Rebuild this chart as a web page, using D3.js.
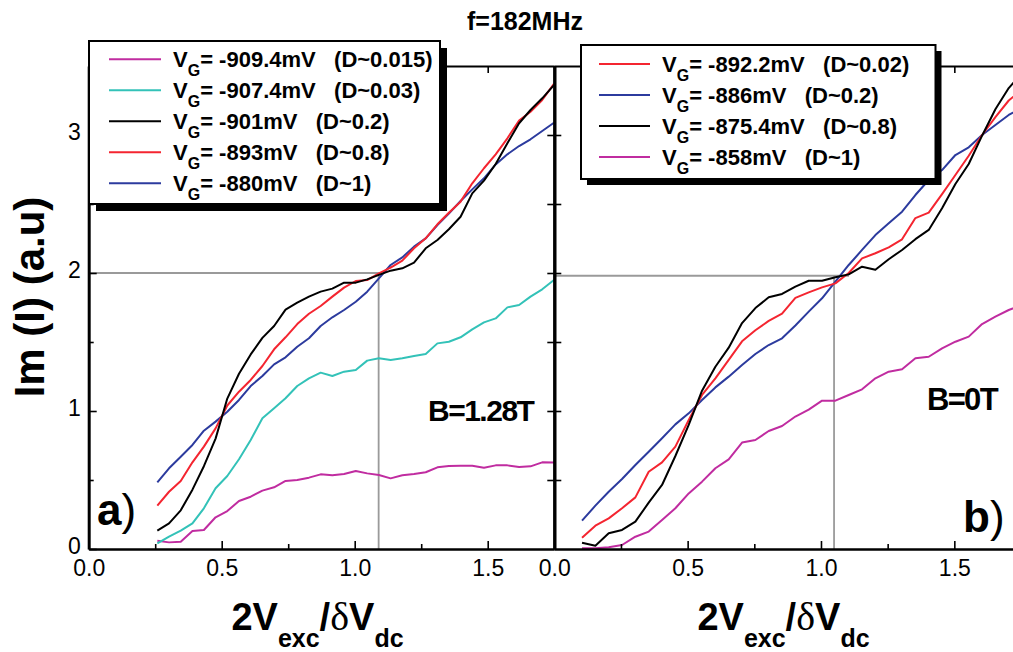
<!DOCTYPE html>
<html><head><meta charset="utf-8">
<script src="https://cdn.jsdelivr.net/npm/d3@7"></script>
<style>
body{margin:0;background:#fff}
svg{display:block;font-family:"Liberation Sans",Arial,sans-serif}
</style></head><body>
<svg id="c" width="1013" height="652"></svg>
<script>
// ---------- data ----------
const xA = [0.258,0.302,0.346,0.390,0.433,0.477,0.521,0.565,0.609,0.653,0.697,0.740,0.784,0.828,0.872,0.916,0.960,1.004,1.047,1.091,1.135,1.179,1.223,1.267,1.311,1.354,1.398,1.442,1.486,1.530,1.574,1.618,1.661,1.705,1.749];
const magentaA = [0.06,0.048,0.053,0.13,0.138,0.23,0.275,0.348,0.379,0.423,0.447,0.493,0.50,0.517,0.541,0.534,0.543,0.565,0.548,0.536,0.512,0.534,0.543,0.556,0.592,0.601,0.604,0.604,0.589,0.606,0.606,0.594,0.599,0.628,0.626];
const cyanA = [0.041,0.089,0.133,0.186,0.295,0.44,0.529,0.65,0.79,0.947,1.02,1.092,1.181,1.237,1.278,1.254,1.285,1.297,1.365,1.382,1.37,1.382,1.399,1.413,1.49,1.502,1.534,1.592,1.642,1.671,1.751,1.768,1.829,1.882,1.949];
const blackA = [0.133,0.186,0.28,0.43,0.60,0.80,1.09,1.27,1.41,1.53,1.616,1.735,1.785,1.829,1.865,1.887,1.93,1.93,1.954,1.986,2.017,2.034,2.075,2.179,2.239,2.317,2.408,2.577,2.669,2.79,2.94,3.085,3.181,3.266,3.362];
const redA = [0.315,0.415,0.493,0.628,0.742,0.874,1.04,1.14,1.225,1.326,1.447,1.534,1.63,1.705,1.761,1.829,1.894,1.942,1.949,1.998,2.039,2.09,2.179,2.251,2.353,2.437,2.517,2.65,2.759,2.86,2.976,3.104,3.169,3.254,3.37];
const blueA = [0.483,0.585,0.669,0.754,0.857,0.923,0.995,1.08,1.181,1.254,1.338,1.389,1.466,1.527,1.616,1.679,1.732,1.792,1.865,1.961,2.058,2.113,2.191,2.251,2.348,2.43,2.522,2.606,2.686,2.787,2.86,2.92,2.969,3.029,3.089];

const xB = [0.104,0.154,0.204,0.254,0.304,0.354,0.404,0.454,0.504,0.554,0.604,0.654,0.704,0.754,0.804,0.854,0.904,0.954,1.004,1.054,1.104,1.154,1.204,1.254,1.304,1.354,1.404,1.454,1.504,1.554,1.604,1.654,1.704,1.754];
const redB = [0.082,0.169,0.222,0.295,0.374,0.56,0.628,0.742,0.935,1.116,1.237,1.37,1.505,1.585,1.653,1.705,1.82,1.86,1.896,1.925,2.0,2.106,2.143,2.186,2.244,2.398,2.437,2.572,2.71,2.85,3.0,3.13,3.25,3.33];
const blueB = [0.205,0.314,0.415,0.507,0.609,0.705,0.802,0.903,0.983,1.08,1.171,1.249,1.333,1.413,1.478,1.527,1.62,1.72,1.817,1.937,2.058,2.167,2.275,2.36,2.444,2.565,2.674,2.746,2.855,2.911,3.0,3.072,3.145,3.2];
const blackB = [0.046,0.024,0.114,0.138,0.198,0.336,0.464,0.674,0.899,1.147,1.321,1.459,1.637,1.746,1.824,1.848,1.901,1.944,1.944,1.969,1.99,2.046,2.024,2.1,2.167,2.245,2.312,2.469,2.645,2.79,2.995,3.187,3.34,3.45];
const magentaB = [0.005,0.005,0.012,0.029,0.089,0.126,0.21,0.295,0.403,0.488,0.585,0.65,0.771,0.79,0.855,0.891,0.96,1.01,1.075,1.075,1.116,1.157,1.237,1.285,1.302,1.382,1.393,1.454,1.502,1.539,1.63,1.684,1.732,1.77];

const legendVgA = ["-909.4mV","-907.4mV","-901mV","-893mV","-880mV"];
const legendDA = ["(D~0.015)","(D~0.03)","(D~0.2)","(D~0.8)","(D~1)"];
const legendVgB = ["-892.2mV","-886mV","-875.4mV","-858mV"];
const legendDB = ["(D~0.02)","(D~0.2)","(D~0.8)","(D~1)"];

const xTicks = [0, 0.5, 1.0, 1.5];
const xMinor = [0.25, 0.75, 1.25];
const yTicks = [0, 1, 2, 3];
const yMinor = [0.5, 1.5, 2.5];
const refA = {x: 1.09, y: 2.0};
const refB = {x: 1.049, y: 1.98, xEnd: 1.105};

const C = {mag:"#c02ca0", cyan:"#33c2b8", red:"#f42530", blue:"#2c3b9e", black:"#000000"};

// ---------- drawing ----------
const svg = d3.select("#c");
const y = d3.scaleLinear([0, 3.5], [549, 66]);
const xL = d3.scaleLinear([0, 1.75], [88.7, 554.2]);
const xR = d3.scaleLinear([0, 1.75], [554.3, 1021]);

const defs = svg.append("defs");
defs.append("clipPath").attr("id","clipL").append("rect").attr("x",88.7).attr("y",60).attr("width",465.5).attr("height",489);
defs.append("clipPath").attr("id","clipR").append("rect").attr("x",554.3).attr("y",60).attr("width",460).attr("height",489);

// gray reference lines
svg.append("path").attr("fill","none").attr("stroke","#9a9a9a").attr("stroke-width",1.8)
  .attr("d", d3.line()([[xL(0),y(refA.y)],[xL(refA.x),y(refA.y)],[xL(refA.x),y(0)]]));
svg.append("path").attr("fill","none").attr("stroke","#9a9a9a").attr("stroke-width",1.8)
  .attr("d", d3.line()([[xR(0),y(refB.y)],[xR(refB.xEnd),y(refB.y)]]));
svg.append("path").attr("fill","none").attr("stroke","#9a9a9a").attr("stroke-width",1.8)
  .attr("d", d3.line()([[xR(refB.x),y(refB.y)],[xR(refB.x),y(0)]]));

function series(g, xs, xScale, vals, color){
  g.append("path").datum(vals).attr("fill","none").attr("stroke",color).attr("stroke-width",2)
   .attr("stroke-linejoin","round")
   .attr("d", d3.line().x((d,i)=>xScale(xs[i])).y(d=>y(d)));
}
const gL = svg.append("g").attr("clip-path","url(#clipL)");
series(gL, xA, xL, magentaA, C.mag);
series(gL, xA, xL, cyanA, C.cyan);
series(gL, xA, xL, blueA, C.blue);
series(gL, xA, xL, redA, C.red);
series(gL, xA, xL, blackA, C.black);
const gR = svg.append("g").attr("clip-path","url(#clipR)");
series(gR, xB, xR, magentaB, C.mag);
series(gR, xB, xR, blueB, C.blue);
series(gR, xB, xR, redB, C.red);
series(gR, xB, xR, blackB, C.black);

function styleAxis(g, domainW){
  g.attr("font-family",null).attr("font-size",null);
  g.select(".domain").attr("stroke-width",domainW);
  g.selectAll(".tick line").attr("stroke-width",1.6);
  g.selectAll(".tick text").attr("font-size",23).attr("fill","#000");
}
// bottom axes
[xL, xR].forEach(xs=>{
  const g = svg.append("g").attr("transform","translate(0,549)")
    .call(d3.axisBottom(xs).tickValues(xTicks).tickSizeInner(-8).tickSizeOuter(0).tickPadding(11).tickFormat(d3.format(".1f")));
  styleAxis(g, 2.6);
  const m = svg.append("g").attr("transform","translate(0,549)")
    .call(d3.axisBottom(xs).tickValues(xMinor).tickSize(-5).tickFormat(""));
  m.select(".domain").remove(); m.selectAll(".tick line").attr("stroke-width",1.6);
  const t = svg.append("g").attr("transform","translate(0,66)")
    .call(d3.axisTop(xs).tickValues(xTicks.concat(xMinor)).tickSizeInner(-7).tickSizeOuter(0).tickFormat(""));
  styleAxis(t, 2);
});
// left axis
const gy = svg.append("g").attr("transform","translate(88.7,0)")
  .call(d3.axisLeft(y).tickValues(yTicks).tickSizeInner(-8).tickSizeOuter(0).tickPadding(8).tickFormat(d3.format("d")));
styleAxis(gy, 3);
gy.selectAll(".tick text").attr("dy","0.2em");
const gym = svg.append("g").attr("transform","translate(88.7,0)")
  .call(d3.axisLeft(y).tickValues(yMinor).tickSize(-5).tickFormat(""));
gym.select(".domain").remove(); gym.selectAll(".tick line").attr("stroke-width",1.6);
// middle shared axis
const allY = yTicks.concat(yMinor).filter(v=>v>0);
const gm1 = svg.append("g").attr("transform","translate(554.3,0)")
  .call(d3.axisLeft(y).tickValues(allY).tickSizeInner(7).tickSizeOuter(0).tickFormat(""));
styleAxis(gm1, 3);
const gm2 = svg.append("g").attr("transform","translate(554.3,0)")
  .call(d3.axisLeft(y).tickValues(allY).tickSizeInner(-7).tickSizeOuter(0).tickFormat(""));
styleAxis(gm2, 3);

// legends
function legend(bx, by, bw, bh, off, vgs, ds, cols, lx1, lx2, tx, ry0){
  const g = svg.append("g");
  g.append("rect").attr("x",bx+off).attr("y",by+off).attr("width",bw).attr("height",bh).attr("fill","#000");
  g.append("rect").attr("x",bx).attr("y",by).attr("width",bw).attr("height",bh).attr("fill","#fff").attr("stroke","#000").attr("stroke-width",2);
  vgs.forEach((vg,i)=>{
    const ry = ry0 + 31*i;
    g.append("line").attr("x1",lx1).attr("x2",lx2).attr("y1",ry).attr("y2",ry).attr("stroke",cols[i]).attr("stroke-width",2);
    const t = g.append("text").attr("x",tx).attr("y",ry+8).attr("font-size",22).attr("font-weight","bold").style("white-space","pre");
    t.append("tspan").text("V");
    t.append("tspan").attr("font-size",16).attr("dy",9).text("G");
    t.append("tspan").attr("dy",-9).text("= " + vg + "   " + ds[i]);
  });
}
legend(89, 41, 351, 163, 7, legendVgA, legendDA, [C.mag, C.cyan, C.black, C.red, C.blue], 109, 161, 173, 59.3);
legend(581, 45, 354.5, 134, 6, legendVgB, legendDB, [C.red, C.blue, C.black, C.mag], 599, 650, 662, 64);

// texts
svg.append("text").attr("x",525).attr("y",30).attr("text-anchor","middle").attr("font-size",25).attr("font-weight","bold").text("f=182MHz");
svg.append("text").attr("transform","translate(44,297) rotate(-90)").attr("text-anchor","middle")
  .attr("font-size",42).attr("font-weight","bold").text("Im (I) (a.u)");
function xTitle(cx){
  const t = svg.append("text").attr("x",cx).attr("y",630).attr("text-anchor","middle").attr("font-weight","bold").attr("font-size",38);
  t.append("tspan").text("2V");
  t.append("tspan").attr("font-size",25).attr("dy",17).text("exc");
  t.append("tspan").attr("dy",-17).text("/");
  t.append("tspan").attr("font-family","'Liberation Serif',serif").attr("font-weight","normal").attr("font-size",40).text("δ");
  t.append("tspan").text("V");
  t.append("tspan").attr("font-size",25).attr("dy",17).text("dc");
}
xTitle(317.5);
xTitle(783.5);
function panelLabel(x, yb, letter){
  const t = svg.append("text").attr("x",x).attr("y",yb).attr("font-size",44);
  t.append("tspan").attr("font-weight","bold").text(letter);
  t.append("tspan").text(")");
}
panelLabel(97, 525, "a");
panelLabel(963, 532, "b");
svg.append("text").attr("x",428).attr("y",421).attr("font-size",30).attr("font-weight","bold").attr("letter-spacing",-1.5).text("B=1.28T");
svg.append("text").attr("x",927).attr("y",410).attr("font-size",31).attr("font-weight","bold").attr("letter-spacing",-1.7).text("B=0T");
</script>
</body></html>
